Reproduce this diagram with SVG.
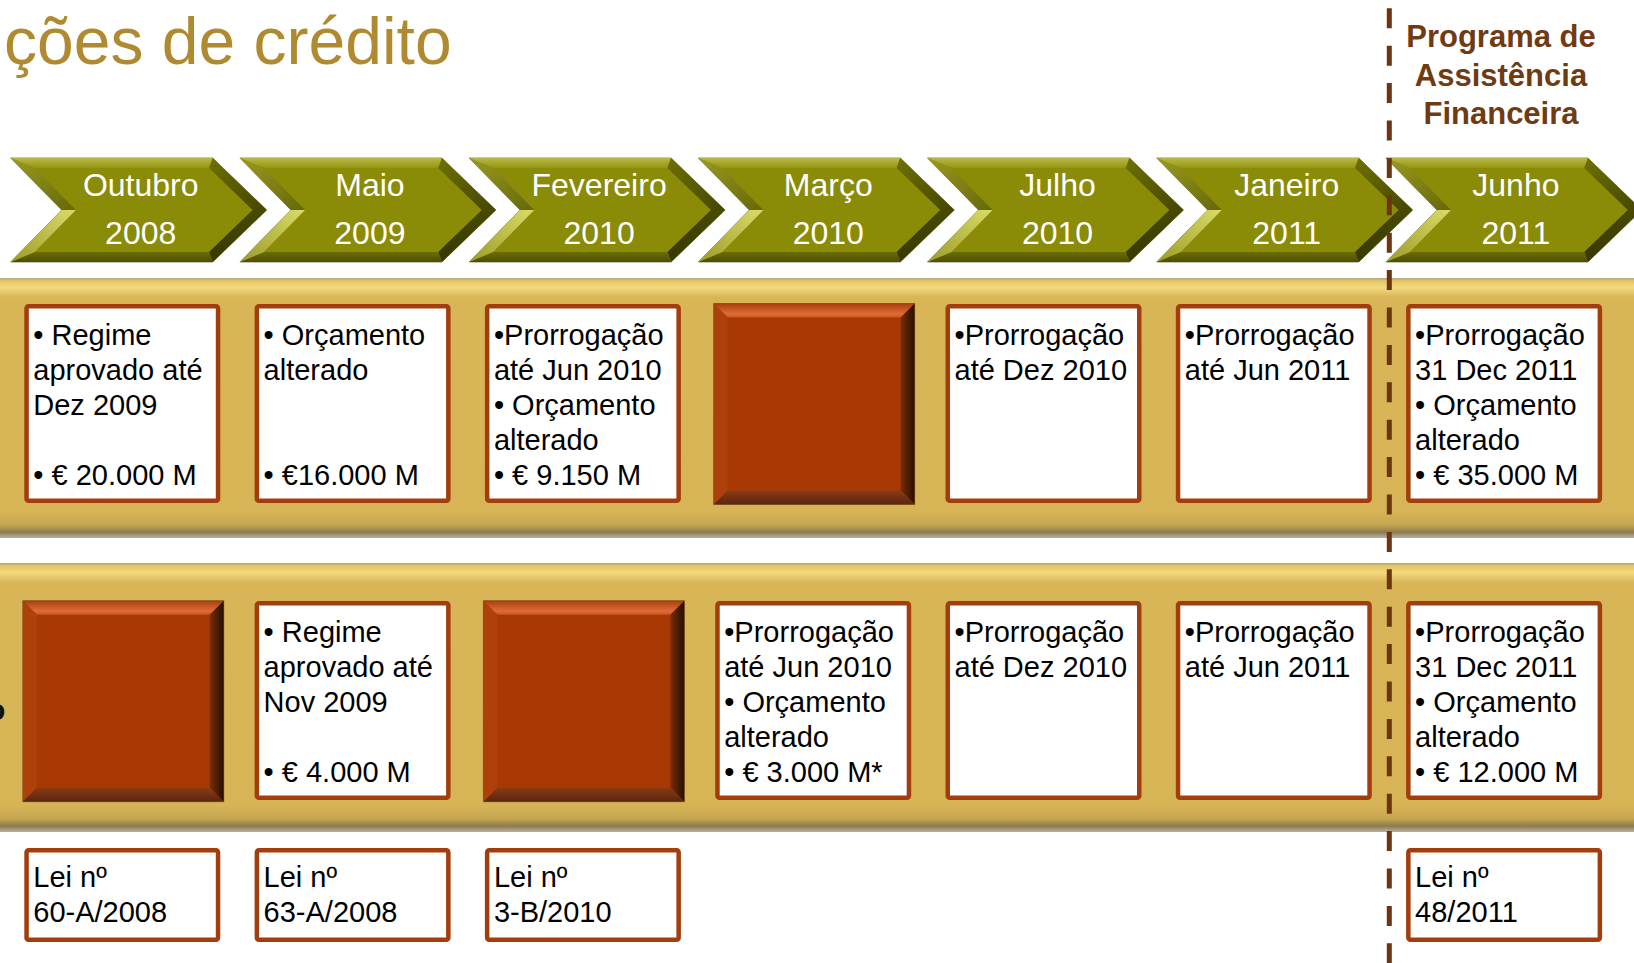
<svg xmlns="http://www.w3.org/2000/svg" xmlns:xlink="http://www.w3.org/1999/xlink" width="1634" height="963" viewBox="0 0 1634 963">
<defs>
<style>
.title{font-family:"Liberation Sans",Arial,sans-serif;font-size:66px;fill:#B08A30}
.prog{font-family:"Liberation Sans",Arial,sans-serif;font-size:31px;font-weight:bold;fill:#703A12;text-anchor:middle}
.chv{font-family:"Liberation Sans",Arial,sans-serif;font-size:32px;fill:#FFFFFF;text-anchor:middle}
.bx{font-family:"Liberation Sans",Arial,sans-serif;font-size:29px;fill:#000000}
.wbox{fill:#FFFFFF;stroke:#A33D0C;stroke-width:4.5}
.lbl{font-family:"Liberation Sans",Arial,sans-serif;font-size:30px;font-weight:bold;fill:#111111}
</style>
<linearGradient id="band" x1="0" y1="0" x2="0" y2="1">
<stop offset="0" stop-color="#A9A38C"/>
<stop offset="0.01" stop-color="#E3C462"/>
<stop offset="0.035" stop-color="#F3D97E"/>
<stop offset="0.075" stop-color="#D8B557"/>
<stop offset="0.9" stop-color="#D7B456"/>
<stop offset="0.95" stop-color="#C7A651"/>
<stop offset="0.978" stop-color="#8C7B4F"/>
<stop offset="1" stop-color="#B8B2A0"/>
</linearGradient>
<linearGradient id="cTop" x1="0" y1="0" x2="0" y2="1">
<stop offset="0" stop-color="#B8B84A"/>
<stop offset="1" stop-color="#94950F"/>
</linearGradient>
<linearGradient id="cUL" x1="0" y1="0" x2="1" y2="1">
<stop offset="0" stop-color="#9A9A20"/>
<stop offset="1" stop-color="#66680A"/>
</linearGradient>
<linearGradient id="cLL" x1="1" y1="0" x2="0" y2="1">
<stop offset="0" stop-color="#DADA66"/>
<stop offset="1" stop-color="#9C9C2A"/>
</linearGradient>
<linearGradient id="cUR" x1="0" y1="0" x2="1" y2="1">
<stop offset="0" stop-color="#6E7004"/>
<stop offset="1" stop-color="#454600"/>
</linearGradient>
<linearGradient id="cLR" x1="1" y1="0" x2="0" y2="1">
<stop offset="0" stop-color="#4A4B00"/>
<stop offset="1" stop-color="#383800"/>
</linearGradient>
<linearGradient id="cBot" x1="0" y1="0" x2="0" y2="1">
<stop offset="0" stop-color="#6C6D05"/>
<stop offset="1" stop-color="#4E4E00"/>
</linearGradient>
<linearGradient id="fTop" x1="0" y1="0" x2="0" y2="1">
<stop offset="0" stop-color="#A8400C"/>
<stop offset="0.75" stop-color="#E06C38"/>
<stop offset="1" stop-color="#C9541E"/>
</linearGradient>
<linearGradient id="fRight" x1="0" y1="0" x2="1" y2="0">
<stop offset="0" stop-color="#7A2C06"/>
<stop offset="1" stop-color="#241000"/>
</linearGradient>
<linearGradient id="fBot" x1="0" y1="0" x2="0" y2="1">
<stop offset="0" stop-color="#8A3A14"/>
<stop offset="1" stop-color="#5A2610"/>
</linearGradient>
<g id="chev">
<polygon points="0,158 202,158 256,210 202,262 0,262 51,210" fill="#8A8B06" stroke="#8E8E74" stroke-width="1"/>
<polygon points="0,158 202,158 198.3,168 23.9,168" fill="url(#cTop)"/>
<polygon points="202,158 256,210 241.9,210 198.3,168" fill="url(#cUR)"/>
<polygon points="256,210 202,262 198.3,252 241.9,210" fill="url(#cLR)"/>
<polygon points="202,262 0,262 23.9,252 198.3,252" fill="url(#cBot)"/>
<polygon points="0,262 51,210 65.1,210 23.9,252" fill="url(#cLL)"/>
<polygon points="51,210 0,158 23.9,168 65.1,210" fill="url(#cUL)"/>
</g>
<g id="filled">
<rect x="0" y="0" width="201" height="201" fill="#A83804"/>
<polygon points="0,0 201,0 187,14 14,14" fill="url(#fTop)"/>
<polygon points="0,0 14,14 14,187 0,201" fill="#AE400C"/>
<polygon points="201,0 201,201 187,187 187,14" fill="url(#fRight)"/>
<polygon points="0,201 201,201 187,187 14,187" fill="url(#fBot)"/>
<rect x="0" y="0" width="201" height="201" fill="none" stroke="#6A4A20" stroke-opacity="0.5" stroke-width="1"/>
</g>
</defs>

<rect x="0" y="0" width="1634" height="963" fill="#FFFFFF"/>

<g id="title"><text class="title" x="4" y="64">ções de crédito</text></g>

<g id="programa">
<text class="prog" x="1501" y="47">Programa de</text>
<text class="prog" x="1501" y="85.5">Assistência</text>
<text class="prog" x="1501" y="123.5">Financeira</text>
</g>

<g id="timeline">
<g id="chev-out-2008"><use xlink:href="#chev" href="#chev" x="10.7"/><text class="chv" x="140.7" y="196">Outubro</text><text class="chv" x="140.7" y="244">2008</text></g>
<g id="chev-mai-2009"><use xlink:href="#chev" href="#chev" x="239.9"/><text class="chv" x="369.9" y="196">Maio</text><text class="chv" x="369.9" y="244">2009</text></g>
<g id="chev-fev-2010"><use xlink:href="#chev" href="#chev" x="469.1"/><text class="chv" x="599.1" y="196">Fevereiro</text><text class="chv" x="599.1" y="244">2010</text></g>
<g id="chev-mar-2010"><use xlink:href="#chev" href="#chev" x="698.3"/><text class="chv" x="828.3" y="196">Março</text><text class="chv" x="828.3" y="244">2010</text></g>
<g id="chev-jul-2010"><use xlink:href="#chev" href="#chev" x="927.5"/><text class="chv" x="1057.5" y="196">Julho</text><text class="chv" x="1057.5" y="244">2010</text></g>
<g id="chev-jan-2011"><use xlink:href="#chev" href="#chev" x="1156.7"/><text class="chv" x="1286.7" y="196">Janeiro</text><text class="chv" x="1286.7" y="244">2011</text></g>
<g id="chev-jun-2011"><use xlink:href="#chev" href="#chev" x="1385.9"/><text class="chv" x="1515.9" y="196">Junho</text><text class="chv" x="1515.9" y="244">2011</text></g>
</g>

<g id="bands">
<rect x="0" y="278" width="1634" height="260" fill="url(#band)"/>
<rect x="0" y="563" width="1634" height="269" fill="url(#band)"/>
</g>

<g id="row-label"><text class="lbl" x="-13" y="720">o</text></g>

<g id="upper-row">
<g id="u1"><rect class="wbox" x="26.55" y="306.25" width="191.5" height="194.5" rx="2"/>
<text class="bx" x="33.3"><tspan x="33.3" y="345">• Regime</tspan><tspan x="33.3" y="380">aprovado até</tspan><tspan x="33.3" y="415">Dez 2009</tspan><tspan x="33.3" y="485">• € 20.000 M</tspan></text></g>
<g id="u2"><rect class="wbox" x="256.85" y="306.25" width="191.5" height="194.5" rx="2"/>
<text class="bx"><tspan x="263.6" y="345">• Orçamento</tspan><tspan x="263.6" y="380">alterado</tspan><tspan x="263.6" y="485">• €16.000 M</tspan></text></g>
<g id="u3"><rect class="wbox" x="487.15" y="306.25" width="191.5" height="194.5" rx="2"/>
<text class="bx"><tspan x="493.9" y="345">•Prorrogação</tspan><tspan x="493.9" y="380">até Jun 2010</tspan><tspan x="493.9" y="415">• Orçamento</tspan><tspan x="493.9" y="450">alterado</tspan><tspan x="493.9" y="485">• € 9.150 M</tspan></text></g>
<g id="u4"><use xlink:href="#filled" href="#filled" transform="translate(713.7,303.5)"/></g>
<g id="u5"><rect class="wbox" x="947.75" y="306.25" width="191.5" height="194.5" rx="2"/>
<text class="bx"><tspan x="954.5" y="345">•Prorrogação</tspan><tspan x="954.5" y="380">até Dez 2010</tspan></text></g>
<g id="u6"><rect class="wbox" x="1178.05" y="306.25" width="191.5" height="194.5" rx="2"/>
<text class="bx"><tspan x="1184.8" y="345">•Prorrogação</tspan><tspan x="1184.8" y="380">até Jun 2011</tspan></text></g>
<g id="u7"><rect class="wbox" x="1408.35" y="306.25" width="191.5" height="194.5" rx="2"/>
<text class="bx"><tspan x="1415.1" y="345">•Prorrogação</tspan><tspan x="1415.1" y="380">31 Dec 2011</tspan><tspan x="1415.1" y="415">• Orçamento</tspan><tspan x="1415.1" y="450">alterado</tspan><tspan x="1415.1" y="485">• € 35.000 M</tspan></text></g>
</g>

<g id="lower-row">
<g id="l1"><use xlink:href="#filled" href="#filled" transform="translate(22.8,600.7)"/></g>
<g id="l2"><rect class="wbox" x="256.85" y="603.25" width="191.5" height="194.5" rx="2"/>
<text class="bx"><tspan x="263.6" y="642">• Regime</tspan><tspan x="263.6" y="677">aprovado até</tspan><tspan x="263.6" y="712">Nov 2009</tspan><tspan x="263.6" y="782">• € 4.000 M</tspan></text></g>
<g id="l3"><use xlink:href="#filled" href="#filled" transform="translate(483.4,600.7)"/></g>
<g id="l4"><rect class="wbox" x="717.45" y="603.25" width="191.5" height="194.5" rx="2"/>
<text class="bx"><tspan x="724.2" y="642">•Prorrogação</tspan><tspan x="724.2" y="677">até Jun 2010</tspan><tspan x="724.2" y="712">• Orçamento</tspan><tspan x="724.2" y="747">alterado</tspan><tspan x="724.2" y="782">• € 3.000 M*</tspan></text></g>
<g id="l5"><rect class="wbox" x="947.75" y="603.25" width="191.5" height="194.5" rx="2"/>
<text class="bx"><tspan x="954.5" y="642">•Prorrogação</tspan><tspan x="954.5" y="677">até Dez 2010</tspan></text></g>
<g id="l6"><rect class="wbox" x="1178.05" y="603.25" width="191.5" height="194.5" rx="2"/>
<text class="bx"><tspan x="1184.8" y="642">•Prorrogação</tspan><tspan x="1184.8" y="677">até Jun 2011</tspan></text></g>
<g id="l7"><rect class="wbox" x="1408.35" y="603.25" width="191.5" height="194.5" rx="2"/>
<text class="bx"><tspan x="1415.1" y="642">•Prorrogação</tspan><tspan x="1415.1" y="677">31 Dec 2011</tspan><tspan x="1415.1" y="712">• Orçamento</tspan><tspan x="1415.1" y="747">alterado</tspan><tspan x="1415.1" y="782">• € 12.000 M</tspan></text></g>
</g>

<g id="laws">
<g id="lei1"><rect class="wbox" x="26.55" y="850.25" width="191.5" height="89.5" rx="2"/>
<text class="bx"><tspan x="33.3" y="887">Lei nº</tspan><tspan x="33.3" y="922">60-A/2008</tspan></text></g>
<g id="lei2"><rect class="wbox" x="256.85" y="850.25" width="191.5" height="89.5" rx="2"/>
<text class="bx"><tspan x="263.6" y="887">Lei nº</tspan><tspan x="263.6" y="922">63-A/2008</tspan></text></g>
<g id="lei3"><rect class="wbox" x="487.15" y="850.25" width="191.5" height="89.5" rx="2"/>
<text class="bx"><tspan x="493.9" y="887">Lei nº</tspan><tspan x="493.9" y="922">3-B/2010</tspan></text></g>
<g id="lei7"><rect class="wbox" x="1408.35" y="850.25" width="191.5" height="89.5" rx="2"/>
<text class="bx"><tspan x="1415.1" y="887">Lei nº</tspan><tspan x="1415.1" y="922">48/2011</tspan></text></g>
</g>

<g id="connectors">
<line x1="1389.3" y1="8.3" x2="1389.3" y2="963" stroke="#6B3512" stroke-width="5" stroke-dasharray="20 17.4"/>
</g>
</svg>
